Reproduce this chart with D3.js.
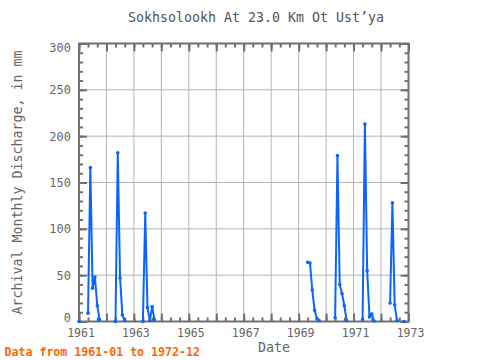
<!DOCTYPE html>
<html><head><meta charset="utf-8">
<script src="https://cdn.jsdelivr.net/npm/d3@7"></script>
<style>
body{margin:0;background:#fff}
text{font-family:"DejaVu Sans Mono","Liberation Mono",monospace}
</style>
</head><body>
<svg id="chart" width="480" height="360"></svg>
<script>
const titleText = "Sokhsolookh At 23.0 Km Ot Ust’ya";
const yLabel = "Archival Monthly Discharge, in mm";
const xLabel = "Date";
const noteText = "Data from 1961-01 to 1972-12";

// monthly records; null marks a missing month (breaks the line)
const dates = [
  "1961-01","1961-02",
  "1961-05","1961-06","1961-07","1961-08","1961-09","1961-10","1961-11",
  "1962-05","1962-06","1962-07","1962-08","1962-09","1962-10",
  "1963-05","1963-06","1963-07","1963-08","1963-09","1963-10","1963-11",
  "1969-05","1969-06","1969-07","1969-08","1969-09","1969-10","1969-11",
  "1970-05","1970-06","1970-07","1970-08","1970-09","1970-10","1970-11",
  "1971-05","1971-06","1971-07","1971-08","1971-09","1971-10","1971-11",
  "1972-05","1972-06","1972-07","1972-08","1972-09",
  "1972-11","1972-12"
];
const discharge = [
  0,null,
  9,166,36,48,17,2,null,
  0,182,47,7,1,null,
  0,117,15,1,16,2,null,
  64,63,34,12,3,1,null,
  4,179,40,30,17,1,null,
  2,213,55,5,8,0.5,null,
  20,128,18,1,null,
  0,null
];
const yTicks = [0,50,100,150,200,250,300];
const xTickYears = [1961,1963,1965,1967,1969,1971,1973];

const svg = d3.select("#chart");
const L = 79, R = 408.5, T = 43.5, B = 321.5;
const parse = d3.timeParse("%Y-%m");
const data = dates.map((d,i)=>({date:parse(d), v:discharge[i]}));

const x = d3.scaleTime().domain([new Date(1961,0,1), new Date(1973,0,1)]).range([L,R]);
const y = d3.scaleLinear().domain([0,300]).range([B,T]);

const gridColor = "#b4b4b4", axisColor = "#707070", textColor = "#666";

// grid
const yearTicks = d3.range(1961,1974).map(yy=>new Date(yy,0,1));
svg.append("g").selectAll("line").data(yearTicks).join("line")
  .attr("x1",d=>x(d)).attr("x2",d=>x(d)).attr("y1",T).attr("y2",B)
  .attr("stroke",gridColor).attr("stroke-width",1);
svg.append("g").selectAll("line").data(yTicks).join("line")
  .attr("x1",L).attr("x2",R).attr("y1",d=>y(d)).attr("y2",d=>y(d))
  .attr("stroke",gridColor).attr("stroke-width",1);

// tick marks (inward) using d3 axes
const minorY = d3.range(0,301,10);
const minorX = [];
for(let yy=1961; yy<1973; yy++){ for(const m of [0,4,8]) minorX.push(new Date(yy,m,1)); }
minorX.push(new Date(1973,0,1));

function styleAxis(g){
  g.select(".domain").remove();
  g.selectAll(".tick line").attr("stroke",axisColor).attr("stroke-width",2);
  g.selectAll("text").remove();
}
svg.append("g").attr("transform",`translate(${L},0)`)
  .call(d3.axisLeft(y).tickValues(minorY).tickSize(-4)).call(styleAxis);
svg.append("g").attr("transform",`translate(${L},0)`)
  .call(d3.axisLeft(y).tickValues(yTicks).tickSize(-8)).call(styleAxis);
svg.append("g").attr("transform",`translate(${R},0)`)
  .call(d3.axisRight(y).tickValues(minorY).tickSize(-4)).call(styleAxis);
svg.append("g").attr("transform",`translate(${R},0)`)
  .call(d3.axisRight(y).tickValues(yTicks).tickSize(-8)).call(styleAxis);
svg.append("g").attr("transform",`translate(0,${B})`)
  .call(d3.axisBottom(x).tickValues(minorX).tickSize(-4)).call(styleAxis);
svg.append("g").attr("transform",`translate(0,${B})`)
  .call(d3.axisBottom(x).tickValues(yearTicks).tickSize(-8)).call(styleAxis);
svg.append("g").attr("transform",`translate(0,${T})`)
  .call(d3.axisTop(x).tickValues(minorX).tickSize(-4)).call(styleAxis);
svg.append("g").attr("transform",`translate(0,${T})`)
  .call(d3.axisTop(x).tickValues(yearTicks).tickSize(-8)).call(styleAxis);

// frame
svg.append("rect").attr("x",L).attr("y",T).attr("width",R-L).attr("height",B-T)
  .attr("fill","none").attr("stroke",axisColor).attr("stroke-width",2);

// tick labels
const yAx = svg.append("g").attr("transform",`translate(${L},0)`)
  .call(d3.axisLeft(y).tickValues(yTicks).tickSize(0).tickPadding(8));
yAx.select(".domain").remove();
yAx.selectAll("text").attr("fill",textColor).style("font-size","12px")
  .attr("dy",d=> d===300 ? "0.65em" : (d===0 ? "0.0em" : "0.32em"));

const xAx = svg.append("g").attr("transform",`translate(0,${B})`)
  .call(d3.axisBottom(x).tickValues(xTickYears.map(yy=>new Date(yy,0,1))).tickSize(0).tickPadding(7)
    .tickFormat(d3.timeFormat("%Y")));
xAx.select(".domain").remove();
xAx.selectAll("text").attr("fill",textColor).style("font-size","11.5px").attr("dx","1.5");

// data line
const line = d3.line().defined(d=>d.v!==null).x(d=>x(d.date)).y(d=>y(d.v));
svg.append("path").datum(data).attr("d",line)
  .attr("fill","none").attr("stroke","#0a64ff").attr("stroke-width",2);
svg.append("g").selectAll("circle").data(data.filter(d=>d.v!==null)).join("circle")
  .attr("cx",d=>x(d.date)).attr("cy",d=>y(d.v)).attr("r",1.8).attr("fill","#0a64ff");

// texts
svg.append("text").attr("x",256).attr("y",22).attr("text-anchor","middle")
  .attr("fill","#555").style("font-size","13.3px").text(titleText);
svg.append("text").attr("transform",`translate(22,${(T+B)/2}) rotate(-90)`)
  .attr("text-anchor","middle").attr("fill",textColor).style("font-size","13.3px").text(yLabel);
svg.append("text").attr("x",274).attr("y",352).attr("text-anchor","middle")
  .attr("fill",textColor).style("font-size","13.3px").text(xLabel);
svg.append("text").attr("x",4.5).attr("y",356).attr("fill","#ff6600")
  .style("font-size","11.6px").style("font-weight","bold").text(noteText);
</script>
</body></html>
